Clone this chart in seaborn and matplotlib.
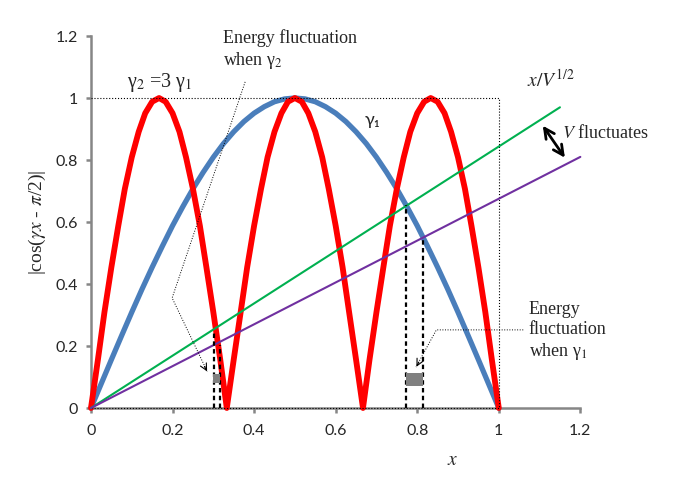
import matplotlib
matplotlib.use("Agg")
import matplotlib.pyplot as plt
import seaborn as sns

# gamma_1 curve, |cos(g1 x - pi/2)|
blue_x = [0.000, 0.025, 0.050, 0.075, 0.100, 0.125, 0.150, 0.175, 0.200, 0.225,
          0.250, 0.275, 0.300, 0.325, 0.350, 0.375, 0.400, 0.425, 0.450, 0.475,
          0.500, 0.525, 0.550, 0.575, 0.600, 0.625, 0.650, 0.675, 0.700, 0.725,
          0.750, 0.775, 0.800, 0.825, 0.850, 0.875, 0.900, 0.925, 0.950, 0.975, 1.000]
blue_y = [0.000, 0.078, 0.156, 0.233, 0.309, 0.383, 0.454, 0.522, 0.588, 0.649,
          0.707, 0.760, 0.809, 0.853, 0.891, 0.924, 0.951, 0.972, 0.988, 0.997,
          1.000, 0.997, 0.988, 0.972, 0.951, 0.924, 0.891, 0.853, 0.809, 0.760,
          0.707, 0.649, 0.588, 0.522, 0.454, 0.383, 0.309, 0.233, 0.156, 0.078, 0.000]

# gamma_2 = 3 gamma_1 curve: three identical arches
red_x = [0.000, 0.017, 0.033, 0.050, 0.067, 0.083, 0.100, 0.117, 0.133, 0.150,
         0.167, 0.183, 0.200, 0.217, 0.233, 0.250, 0.267, 0.283, 0.300, 0.317,
         0.333, 0.350, 0.367, 0.383, 0.400, 0.417, 0.433, 0.450, 0.467, 0.483,
         0.500, 0.517, 0.533, 0.550, 0.567, 0.583, 0.600, 0.617, 0.633, 0.650,
         0.667, 0.683, 0.700, 0.717, 0.733, 0.750, 0.767, 0.783, 0.800, 0.817,
         0.833, 0.850, 0.867, 0.883, 0.900, 0.917, 0.933, 0.950, 0.967, 0.983, 1.000]
red_arch = [0.000, 0.156, 0.309, 0.454, 0.588, 0.707, 0.809, 0.891, 0.951, 0.988,
            1.000, 0.988, 0.951, 0.891, 0.809, 0.707, 0.588, 0.454, 0.309, 0.156, 0.000]
red_y = red_arch + red_arch[1:] + red_arch[1:]

# straight lines x / V^(1/2) for two values of V
green_x = [0.0, 1.15]
green_y = [0.0, 0.97]
purple_x = [0.0, 1.2]
purple_y = [0.0, 0.81]

# dashed markers where the curves meet the lines
dash_x = [0.302, 0.317, 0.773, 0.813]
dash_top = [0.246, 0.203, 0.655, 0.548]

# grey energy-fluctuation boxes
box_x0 = [0.300, 0.773]
box_x1 = [0.317, 0.813]
box_y0 = [0.080, 0.072]
box_y1 = [0.110, 0.114]

ticks = [0, 0.2, 0.4, 0.6, 0.8, 1.0, 1.2]
tick_labels = ["0", "0.2", "0.4", "0.6", "0.8", "1", "1.2"]

sns.set_style("ticks")
plt.rcParams["font.family"] = ["Liberation Serif", "DejaVu Serif"]
plt.rcParams["mathtext.fontset"] = "stix"

fig = plt.figure(figsize=(6.79, 4.8), dpi=100)
ax = fig.add_axes([0.134, 0.15, 0.7207, 0.775])

# dotted frame at y=1 / x=1
ax.plot([0, 1, 1, 0], [1, 1, 0, 0], color="black", lw=0.8, ls=":", zorder=4, clip_on=False)

sns.lineplot(x=blue_x, y=blue_y, ax=ax, color="#4A7EBB", linewidth=3.8,
             sort=False, estimator=None, zorder=3, clip_on=False)
sns.lineplot(x=red_x, y=red_y, ax=ax, color="#FF0000", linewidth=4.2,
             sort=False, estimator=None, zorder=3.5, clip_on=False)
sns.lineplot(x=green_x, y=green_y, ax=ax, color="#00B050", linewidth=1.5,
             sort=False, estimator=None, zorder=4, clip_on=False)
sns.lineplot(x=purple_x, y=purple_y, ax=ax, color="#7030A0", linewidth=1.5,
             sort=False, estimator=None, zorder=4, clip_on=False)

ax.vlines(dash_x, 0, dash_top, colors="black", linewidth=1.6,
          linestyles=[(0, (2, 1.5))], zorder=5)
for x0, x1, y0, y1 in zip(box_x0, box_x1, box_y0, box_y1):
    ax.fill_between([x0, x1], y0, y1, color="#808080", lw=0, zorder=5)

# annotation leaders
ax.plot([0.378, 0.199, 0.285], [1.052, 0.355, 0.118], color="black", lw=0.7, ls=":", zorder=6)
ax.annotate("", xy=(0.288, 0.110), xytext=(0.275, 0.142),
            arrowprops=dict(arrowstyle="->", color="black", lw=0.8, mutation_scale=12), zorder=6)
ax.plot([1.06, 0.847, 0.797], [0.252, 0.252, 0.132], color="black", lw=0.7, ls=":",
        zorder=6, clip_on=False)
ax.annotate("", xy=(0.795, 0.125), xytext=(0.807, 0.156),
            arrowprops=dict(arrowstyle="->", color="black", lw=0.8, mutation_scale=12), zorder=6)
ax.annotate("", xy=(1.104, 0.918), xytext=(1.166, 0.800),
            arrowprops=dict(arrowstyle="<->", color="black", lw=2.0, mutation_scale=18), zorder=6)

ax.text(0.323, 1.222, "Energy fluctuation\nwhen γ$_2$", fontsize=13, va="top",
        ha="left", linespacing=1.2)
ax.text(0.088, 1.05, "γ$_2$ =3 γ$_1$", fontsize=14.5, va="center", ha="left")
ax.text(0.672, 0.93, "γ₁", fontsize=13, va="center", ha="left",
        family=["Lato", "DejaVu Sans"])
ax.text(1.068, 1.06, r"$x/V^{\mathrm{1/2}}$", fontsize=14, va="center", ha="left")
ax.text(1.155, 0.887, r"$V$ fluctuates", fontsize=13, va="center", ha="left")
ax.text(1.073, 0.345, "Energy\nfluctuation\nwhen γ$_1$", fontsize=13, va="top",
        ha="left", linespacing=1.2)
ax.text(0.888, -0.168, r"$x$", fontsize=14, va="center", ha="center")

ax.set_xlim(0, 1.2)
ax.set_ylim(0, 1.2)
ax.set_xticks(ticks)
ax.set_xticklabels(tick_labels)
ax.set_yticks(ticks)
ax.set_yticklabels(tick_labels)
for lab in ax.get_xticklabels() + ax.get_yticklabels():
    lab.set_family(["Lato", "DejaVu Sans"])
    lab.set_fontsize(11.5)
ax.tick_params(axis="both", direction="out", length=3.5, width=1.8, color="#868686")
ax.tick_params(axis="x", pad=8)
ax.tick_params(axis="y", pad=6)

ax.set_ylabel(r"|cos($\gamma x$ - $\pi$/2)|", fontsize=14, labelpad=5)

sns.despine(ax=ax)
for side in ["left", "bottom"]:
    ax.spines[side].set_color("#868686")
    ax.spines[side].set_linewidth(1.8)

fig.savefig("out.png", dpi=100)
